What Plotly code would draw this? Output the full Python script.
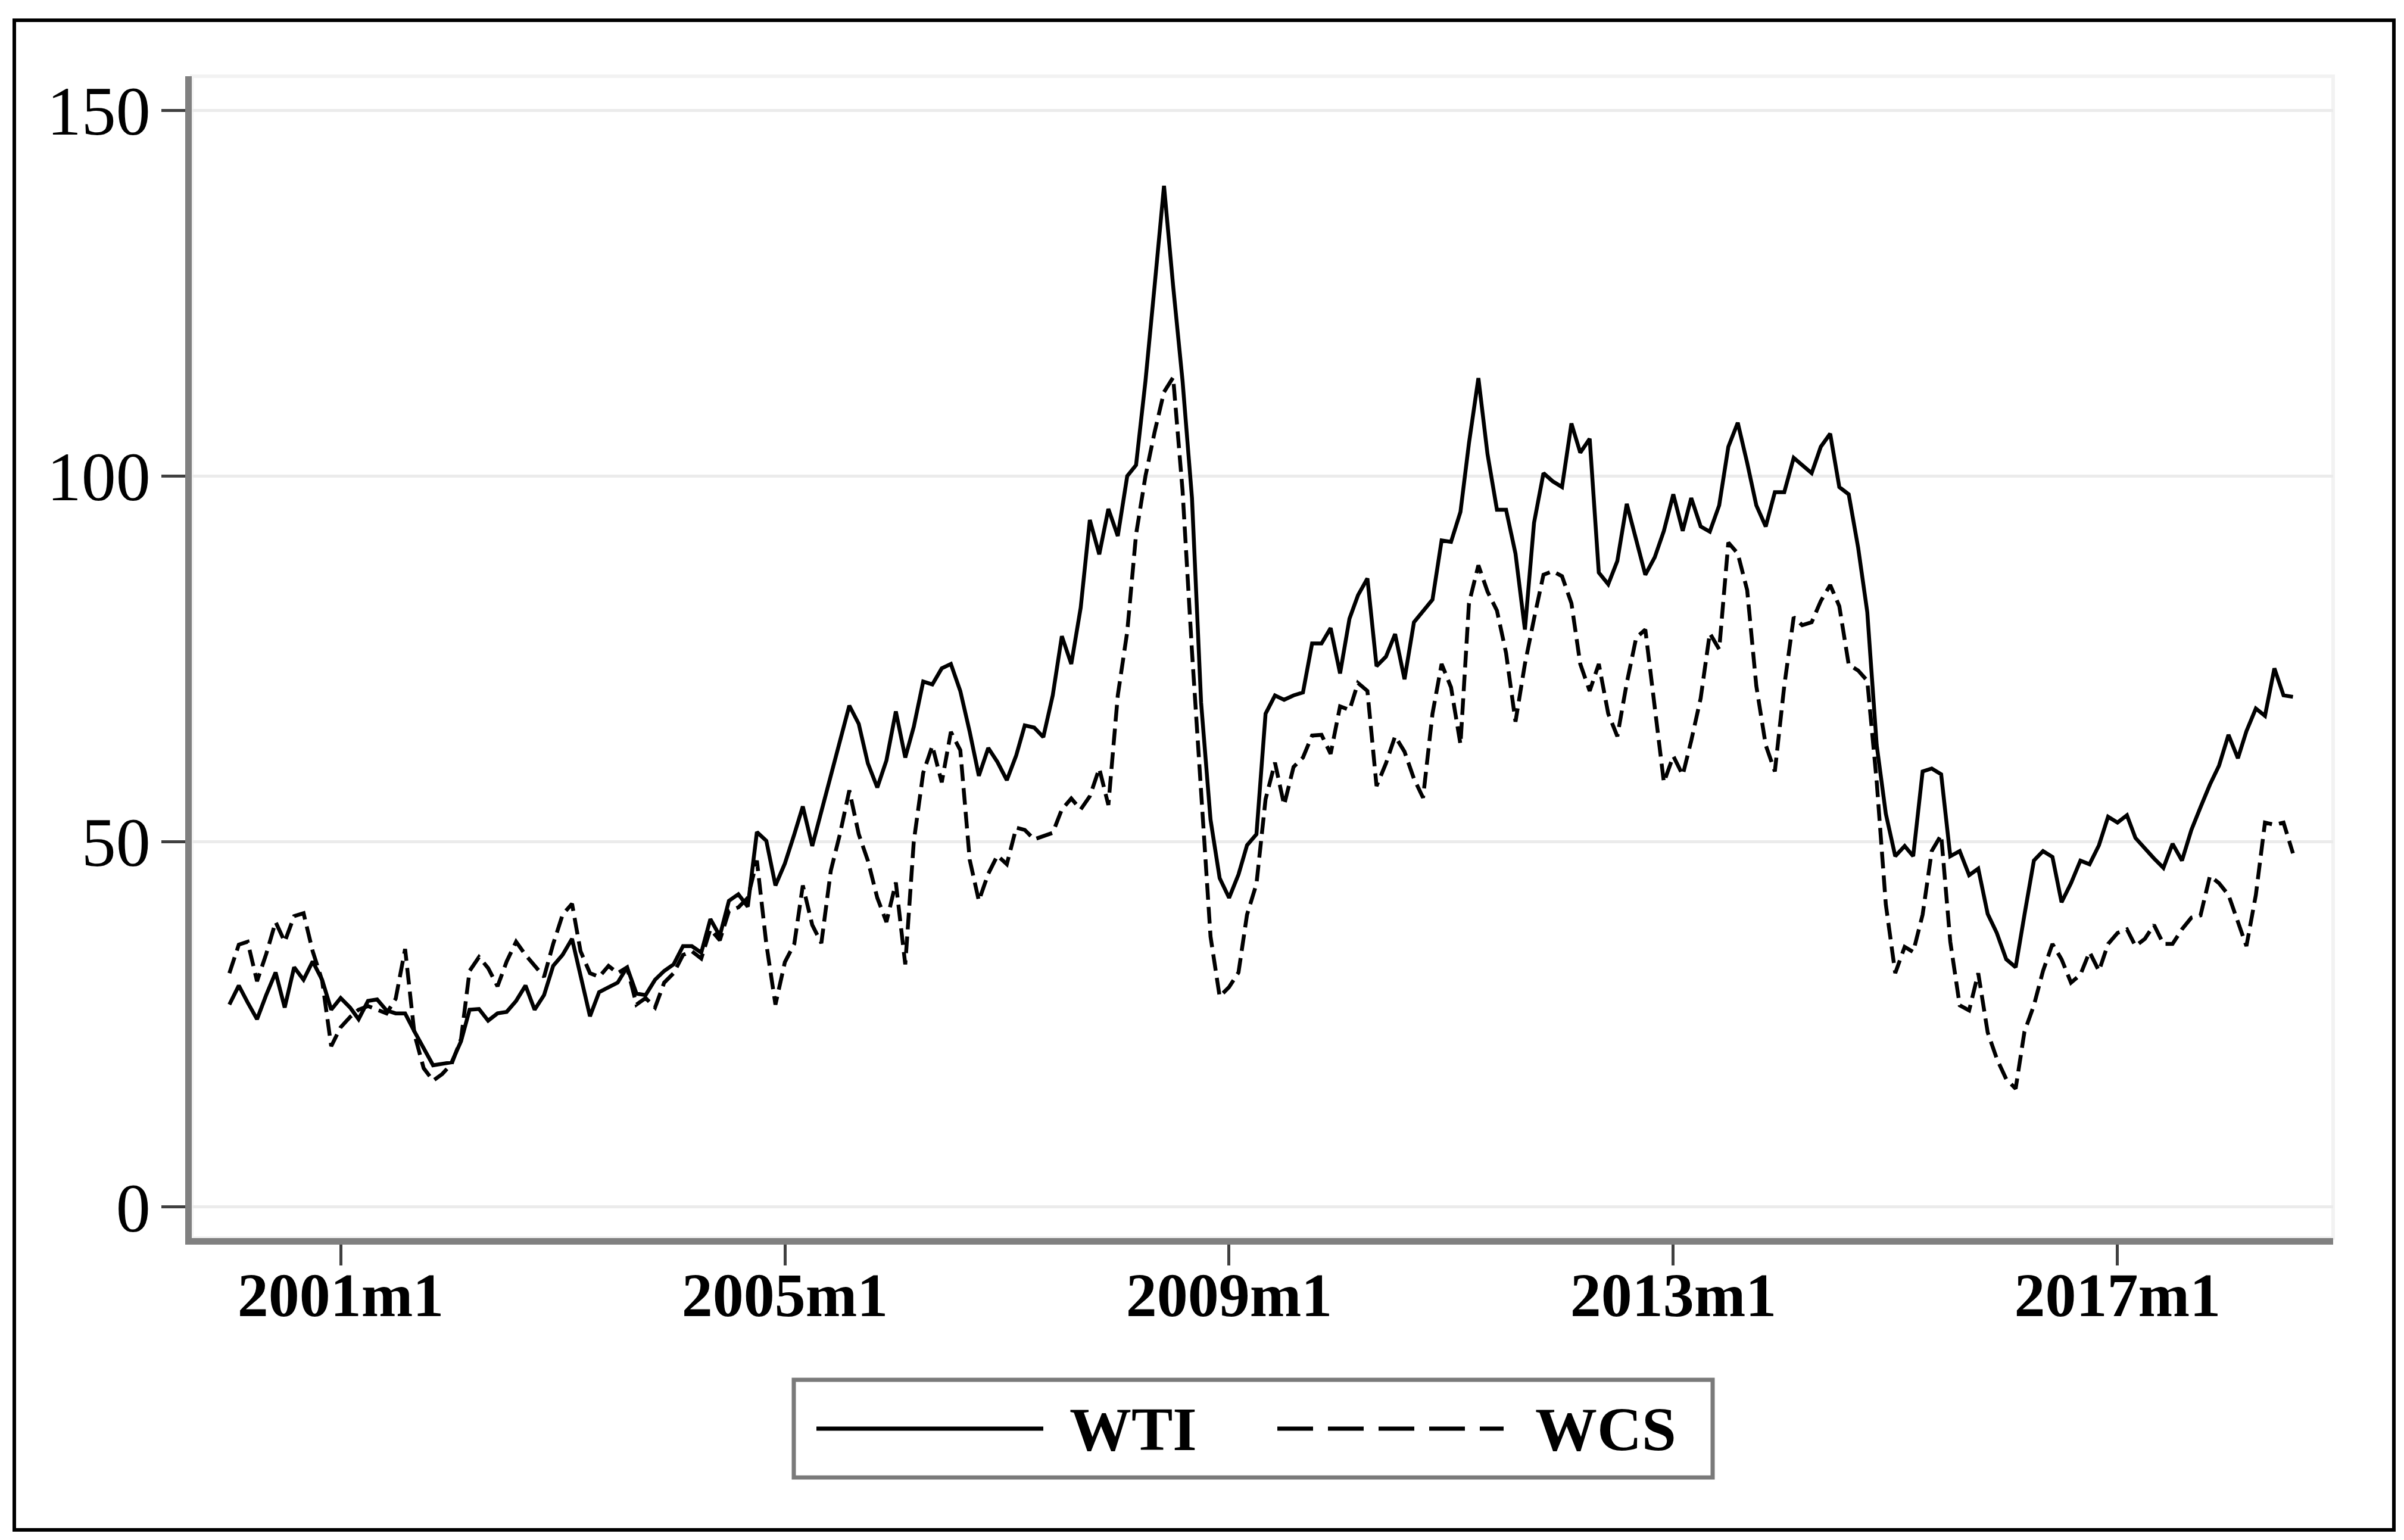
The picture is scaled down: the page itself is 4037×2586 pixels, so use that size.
import pandas as pd
import plotly.graph_objects as go

# ---------------- data (monthly, 2000m1 .. 2018m8) ----------------
start_month = "2000-01-01"
n_months = 224

wti = [
    27.7, 30.3, 28.0, 25.7, 29.0, 32.1, 27.3, 32.8, 31.1, 33.6, 31.1, 27.0,   # 2000
    28.6, 27.3, 25.7, 28.2, 28.4, 26.9, 26.5, 26.5, 24.0, 21.7, 19.4, 19.6,   # 2001
    19.8, 22.7, 27.0, 27.1, 25.5, 26.5, 26.7, 28.2, 30.3, 27.0, 29.0, 33.0,   # 2002
    34.5, 36.7, 31.5, 26.1, 29.4, 30.0, 30.7, 32.8, 29.2, 29.0, 31.1, 32.3,   # 2003
    33.2, 35.7, 35.7, 34.8, 39.4, 37.1, 41.9, 42.8, 41.1, 51.3, 50.1, 44.0,   # 2004
    47.0, 51.0, 54.8, 49.4, 54.0, 59.0, 63.6, 68.6, 66.1, 60.7, 57.4, 61.1,   # 2005
    67.8, 61.5, 65.7, 71.9, 71.5, 73.7, 74.3, 70.6, 65.0, 59.0, 62.8, 60.9,   # 2006
    58.4, 61.8, 65.9, 65.6, 64.3, 70.0, 78.1, 74.3, 82.0, 94.0, 89.3, 95.5,   # 2007
    91.8, 100.0, 101.5, 113.0, 126.0, 139.7, 126.0, 113.0, 97.0, 69.0, 53.0, 45.0,  # 2008
    42.3, 45.5, 49.5, 51.0, 67.5, 70.0, 69.4, 70.0, 70.4, 77.1, 77.1, 79.2,   # 2009
    73.0, 80.5, 83.7, 86.0, 74.0, 75.3, 78.4, 72.2, 80.0, 81.5, 83.1, 91.2,   # 2010
    91.0, 95.1, 104.5, 113.4, 103.0, 95.4, 95.4, 89.4, 79.0, 93.6, 100.4, 99.3,  # 2011
    98.5, 107.2, 103.2, 105.1, 86.8, 85.2, 88.4, 96.2, 91.5, 86.5, 88.9, 92.5,  # 2012
    97.5, 92.5, 97.0, 93.1, 92.4, 96.0, 104.0, 107.3, 101.8, 96.0, 93.1, 97.8,  # 2013
    97.8, 102.5, 101.5, 100.4, 104.0, 105.8, 98.5, 97.5, 90.2, 81.4, 63.2, 53.8,  # 2014
    48.0, 49.4, 48.0, 59.6, 60.0, 59.2, 48.0, 48.7, 45.4, 46.3, 40.1, 37.5,   # 2015
    33.9, 32.8, 40.0, 47.4, 48.7, 47.9, 41.7, 44.3, 47.4, 46.9, 49.5, 53.4,   # 2016
    52.6, 53.6, 50.5, 49.0, 47.7, 46.4, 49.7, 47.4, 51.6, 54.7, 57.8, 60.4,   # 2017
    64.6, 61.4, 65.1, 68.2, 67.2, 73.7, 70.0, 69.8,                           # 2018
]

wcs = [
    32.0, 35.9, 36.3, 30.9, 34.6, 39.0, 36.3, 39.8, 40.2, 35.0, 31.0, 22.0,   # 2000
    24.6, 26.0, 27.0, 27.5, 27.0, 26.5, 28.5, 35.3, 23.6, 19.0, 17.3, 18.2,   # 2001
    19.6, 23.0, 32.3, 34.2, 32.7, 30.2, 33.6, 36.3, 34.5, 33.0, 31.5, 36.0,   # 2002
    40.0, 41.5, 35.0, 32.0, 31.5, 33.0, 32.0, 32.8, 27.7, 28.6, 27.3, 30.7,   # 2003
    32.0, 34.5, 35.0, 34.0, 38.0, 36.5, 40.5, 41.0, 42.3, 47.4, 36.0, 27.7,   # 2004
    33.5, 36.0, 44.0, 38.6, 36.1, 46.0, 51.0, 57.0, 51.0, 47.4, 42.3, 39.0,   # 2005
    44.4, 33.2, 50.0, 59.4, 63.1, 58.1, 65.0, 62.5, 47.5, 41.9, 45.6, 48.1,   # 2006
    46.9, 51.9, 51.6, 50.3, 50.8, 51.2, 54.4, 55.9, 54.4, 56.2, 60.0, 55.0,   # 2007
    70.0, 78.7, 92.0, 100.0, 106.0, 111.5, 113.5, 98.0, 76.0, 57.0, 37.0, 28.8,  # 2008
    30.1, 32.1, 40.0, 44.2, 55.8, 60.8, 55.0, 60.2, 61.5, 64.5, 64.6, 62.0,   # 2009
    68.5, 68.0, 71.7, 70.6, 57.6, 60.7, 64.4, 62.3, 58.6, 56.0, 67.5, 74.3,   # 2010
    71.1, 63.3, 82.6, 87.8, 84.2, 81.6, 75.8, 66.4, 74.3, 80.5, 86.5, 87.0,   # 2011
    86.3, 82.6, 74.3, 70.6, 74.3, 67.5, 64.4, 71.7, 77.9, 79.0, 68.5, 58.1,   # 2012
    61.7, 59.1, 63.8, 69.6, 78.5, 76.3, 90.9, 89.4, 84.4, 71.3, 63.2, 59.6,   # 2013
    71.3, 80.7, 79.6, 80.0, 82.9, 85.1, 82.2, 74.2, 73.4, 72.0, 58.2, 41.4,   # 2014
    32.0, 35.6, 34.9, 40.0, 48.7, 50.9, 36.3, 27.6, 26.9, 32.0, 23.9, 20.3,   # 2015
    17.5, 16.2, 24.0, 27.6, 32.3, 36.0, 33.9, 30.7, 31.8, 34.9, 32.3, 36.0,   # 2016
    37.5, 38.0, 35.7, 36.7, 38.6, 36.0, 36.0, 38.0, 39.6, 39.9, 45.3, 44.3,   # 2017
    42.7, 39.1, 35.7, 42.7, 52.6, 52.3, 52.6, 48.4,                           # 2018
]

x_tick_dates = ["2001-01-01", "2005-01-01", "2009-01-01", "2013-01-01", "2017-01-01"]
x_tick_labels = ["2001m1", "2005m1", "2009m1", "2013m1", "2017m1"]
y_tick_vals = [0, 50, 100, 150]
y_tick_labels = ["0", "50", "100", "150"]
series_names = ["WTI", "WCS"]

assert len(wti) == n_months and len(wcs) == n_months, (len(wti), len(wcs))
months = pd.date_range(start_month, periods=n_months, freq="MS")

# ---------------- geometry (pixels of the 4037 x 2586 canvas) ----------------
W, H = 4037, 2586
L, R, T, B = 314, 3910, 120, 2071


def px(x):
    return (x - L) / (R - L)


def py(y):
    return (B - y) / (B - T)


base = pd.Timestamp("2001-01-01")


def m2date(m):
    return base + pd.Timedelta(days=m * 30.4375)


x_range = [m2date(-16.09), m2date(215.3)]
y_range = [-4.24, 154.7]

SERIF = "Liberation Serif"
PLOT_DASH = "28px,12px"
LEG_DASH = "60px,25px"

fig = go.Figure()
fig.add_trace(go.Scatter(x=months, y=wti, mode="lines", name=series_names[0],
                         line=dict(color="black", width=6.5)))
fig.add_trace(go.Scatter(x=months, y=wcs, mode="lines", name=series_names[1],
                         line=dict(color="black", width=6.5, dash=PLOT_DASH)))

fig.update_layout(
    width=W, height=H,
    margin=dict(l=L, r=W - R, t=T, b=H - B, pad=0, autoexpand=False),
    paper_bgcolor="white", plot_bgcolor="white",
    showlegend=False,
)

fig.update_xaxes(
    range=x_range, tickvals=x_tick_dates, ticktext=x_tick_labels,
    showgrid=False, zeroline=False,
    showline=True, linecolor="#808080", linewidth=11,
    ticks="outside", ticklen=35, tickwidth=5, tickcolor="#404040",
    tickfont=dict(family=SERIF, size=104, color="black", weight="bold"),
    ticklabelstandoff=-40,
)
fig.update_yaxes(
    range=y_range, tickvals=y_tick_vals, ticktext=y_tick_labels,
    showgrid=True, gridcolor="#ebebeb", gridwidth=5, zeroline=False,
    showline=True, linecolor="#808080", linewidth=11,
    ticks="outside", ticklen=40, tickwidth=5, tickcolor="#404040",
    tickfont=dict(family=SERIF, size=116, color="black"),
    ticklabelstandoff=-5,
)

shapes = []
# faint plot-region border
shapes.append(dict(type="rect", xref="paper", yref="paper", x0=0, x1=1, y0=0, y1=1,
                   line=dict(color="#f2f2f2", width=6), layer="below"))
# outer figure frame
shapes.append(dict(type="rect", xref="paper", yref="paper",
                   x0=px(16), x1=px(4012), y0=py(2561), y1=py(26),
                   line=dict(color="black", width=6)))
# legend box
leg_y = 2391
shapes.append(dict(type="rect", xref="paper", yref="paper",
                   x0=px(1325), x1=px(2868), y0=py(2473), y1=py(2309),
                   line=dict(color="#7a7a7a", width=7), fillcolor="white"))
shapes.append(dict(type="line", xref="paper", yref="paper",
                   x0=px(1363), x1=px(1744), y0=py(leg_y), y1=py(leg_y),
                   line=dict(color="black", width=7)))
shapes.append(dict(type="line", xref="paper", yref="paper",
                   x0=px(2137), x1=px(2517), y0=py(leg_y), y1=py(leg_y),
                   line=dict(color="black", width=7, dash=LEG_DASH)))

annotations = [
    dict(xref="paper", yref="paper", x=px(1786), y=py(leg_y), text=series_names[0],
         showarrow=False, xanchor="left", yanchor="middle",
         font=dict(family=SERIF, size=104, color="black", weight="bold")),
    dict(xref="paper", yref="paper", x=px(2568), y=py(leg_y), text=series_names[1],
         showarrow=False, xanchor="left", yanchor="middle",
         font=dict(family=SERIF, size=104, color="black", weight="bold")),
]

fig.update_layout(shapes=shapes, annotations=annotations)
fig.write_html("out.html")
